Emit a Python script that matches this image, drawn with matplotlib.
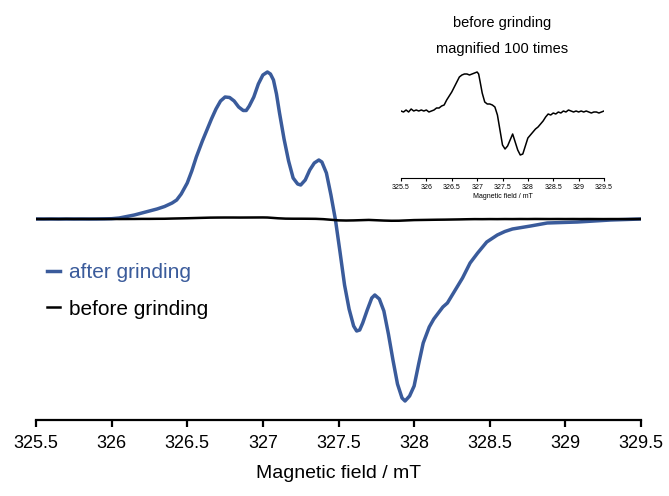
import numpy as np
import matplotlib
matplotlib.use("Agg")
import matplotlib.pyplot as plt

plt.rcParams['font.family'] = ['Liberation Sans', 'DejaVu Sans']

# --- data ------------------------------------------------------------------
# after grinding (arbitrary units)
field_after = [325.5, 325.9, 326.0, 326.05, 326.1, 326.15, 326.2, 326.25, 326.3,
               326.35, 326.4, 326.43, 326.46, 326.5, 326.53, 326.56, 326.6,
               326.63, 326.66, 326.69, 326.72, 326.75, 326.78, 326.81, 326.84,
               326.87, 326.89, 326.91, 326.94, 326.97, 327.0, 327.03, 327.05,
               327.07, 327.09, 327.11, 327.14, 327.17, 327.2, 327.23, 327.25,
               327.28, 327.31, 327.34, 327.37, 327.39, 327.42, 327.45, 327.48,
               327.51, 327.54, 327.57, 327.6, 327.62, 327.64, 327.66, 327.69,
               327.72, 327.74, 327.77, 327.8, 327.83, 327.86, 327.89, 327.92,
               327.94, 327.97, 328.0, 328.03, 328.06, 328.1, 328.13, 328.16,
               328.19, 328.22, 328.26, 328.32, 328.37, 328.42, 328.48, 328.55,
               328.6, 328.65, 328.77, 328.88, 329.08, 329.3, 329.5]
signal_after = [0.0, 0.0, 0.003, 0.01, 0.025, 0.04, 0.06, 0.08, 0.10,
                0.125, 0.16, 0.19, 0.25, 0.36, 0.48, 0.62, 0.78,
                0.89, 1.00, 1.10, 1.18, 1.22, 1.215, 1.18, 1.12,
                1.085, 1.085, 1.13, 1.22, 1.35, 1.44, 1.47, 1.45,
                1.39, 1.25, 1.06, 0.80, 0.58, 0.41, 0.35, 0.34,
                0.39, 0.49, 0.56, 0.59, 0.57, 0.46, 0.24, -0.01,
                -0.33, -0.66, -0.90, -1.07, -1.12, -1.11, -1.04, -0.91,
                -0.79, -0.76, -0.80, -0.92, -1.15, -1.41, -1.65, -1.79,
                -1.82, -1.77, -1.67, -1.45, -1.24, -1.08, -1.00, -0.94,
                -0.88, -0.84, -0.74, -0.59, -0.44, -0.34, -0.23, -0.16,
                -0.125, -0.10, -0.07, -0.04, -0.03, -0.01, 0.0]

# before grinding, as shown in the inset (magnified 100 times)
field_before = [325.5, 325.55, 325.6, 325.65, 325.7, 325.75, 325.8, 325.85, 325.9,
                325.95, 326.0, 326.05, 326.1, 326.15, 326.2, 326.25, 326.3,
                326.35, 326.4, 326.45, 326.5, 326.55, 326.6, 326.65, 326.7,
                326.75, 326.8, 326.85, 326.9, 326.95, 327.0, 327.03, 327.06,
                327.1, 327.15, 327.2, 327.25, 327.3, 327.35, 327.4, 327.45,
                327.5, 327.55, 327.6, 327.65, 327.7, 327.75, 327.8, 327.85,
                327.9, 327.95, 328.0, 328.05, 328.1, 328.15, 328.2, 328.25,
                328.3, 328.35, 328.4, 328.45, 328.5, 328.55, 328.6, 328.65,
                328.7, 328.75, 328.8, 328.85, 328.9, 328.95, 329.0, 329.05,
                329.1, 329.15, 329.2, 329.25, 329.3, 329.35, 329.4, 329.45, 329.5]
signal_before_x100 = [0.0, -0.04, 0.04, -0.04, 0.08, 0.0, 0.04, 0.0, 0.04,
                      0.0, 0.04, -0.04, 0.0, 0.04, 0.12, 0.12, 0.20,
                      0.24, 0.44, 0.60, 0.76, 0.96, 1.16, 1.36, 1.44,
                      1.48, 1.48, 1.44, 1.48, 1.52, 1.56, 1.48, 1.16,
                      0.72, 0.36, 0.28, 0.28, 0.24, 0.16, -0.16, -0.76,
                      -1.36, -1.52, -1.40, -1.16, -0.92, -1.24, -1.56, -1.76,
                      -1.72, -1.40, -1.08, -0.96, -0.84, -0.72, -0.64, -0.52,
                      -0.40, -0.24, -0.12, -0.16, -0.08, -0.12, -0.04, -0.08,
                      0.0, -0.04, 0.04, 0.0, -0.04, 0.0, -0.04, 0.0,
                      -0.04, 0.0, -0.04, -0.08, -0.04, -0.04, -0.08, -0.04, 0.0]
signal_before = [v / 100.0 for v in signal_before_x100]

xticks = [325.5, 326, 326.5, 327, 327.5, 328, 328.5, 329, 329.5]
xticklabels = ["325.5", "326", "326.5", "327", "327.5", "328", "328.5", "329", "329.5"]

blue = "#3a5b9b"

# --- main plot ---------------------------------------------------------------
fig = plt.figure(figsize=(6.69, 4.96), dpi=100)
ax = fig.add_axes([36/669, 1 - 420/496, (641 - 36)/669, (420 - 50)/496])

ax.plot(field_after, signal_after, color=blue, lw=2.5, label="after grinding",
        solid_joinstyle="round")
ax.plot(field_before, signal_before, color="black", lw=1.8, label="before grinding")

ax.set_xlim(325.5, 329.5)
ax.set_ylim(-2.01, 1.69)
for s in ("top", "right", "left"):
    ax.spines[s].set_visible(False)
ax.spines["bottom"].set_linewidth(1.6)
ax.set_yticks([])
ax.set_xticks(xticks)
ax.set_xticklabels(xticklabels, fontsize=13)
ax.tick_params(axis="x", length=5, width=1.6, pad=6)
ax.set_xlabel("Magnetic field / mT", fontsize=14, labelpad=9)

leg = fig.legend(loc="upper left", bbox_to_anchor=(47/669, 1 - 263/496),
                 bbox_transform=fig.transFigure, frameon=False, borderpad=0,
                 borderaxespad=0, fontsize=15, handlelength=0.6,
                 handletextpad=0.45, labelspacing=0.85)
for txt, c in zip(leg.get_texts(), [blue, "black"]):
    txt.set_color(c)

# --- inset -------------------------------------------------------------------
ins = fig.add_axes([401/669, 1 - 178/496, (604 - 401)/669, (178 - 65)/496])
ins.patch.set_alpha(0)
ins.plot(field_before, signal_before_x100, color="black", lw=1.1)
ins.set_xlim(325.5, 329.5)
ins.set_ylim(-2.68, 1.84)
for s in ("top", "right", "left"):
    ins.spines[s].set_visible(False)
ins.spines["bottom"].set_linewidth(0.8)
ins.set_yticks([])
ins.set_xticks(xticks)
ins.set_xticklabels(xticklabels, fontsize=5)
ins.tick_params(axis="x", length=2, width=0.8, pad=2)
ins.set_xlabel("Magnetic field / mT", fontsize=5, labelpad=2)

fig.text(502/669, 1 - 23/496, "before grinding", fontsize=10.5, ha="center", va="center")
fig.text(502/669, 1 - 49/496, "magnified 100 times", fontsize=10.5, ha="center", va="center")

fig.savefig("out.png", dpi=100)
